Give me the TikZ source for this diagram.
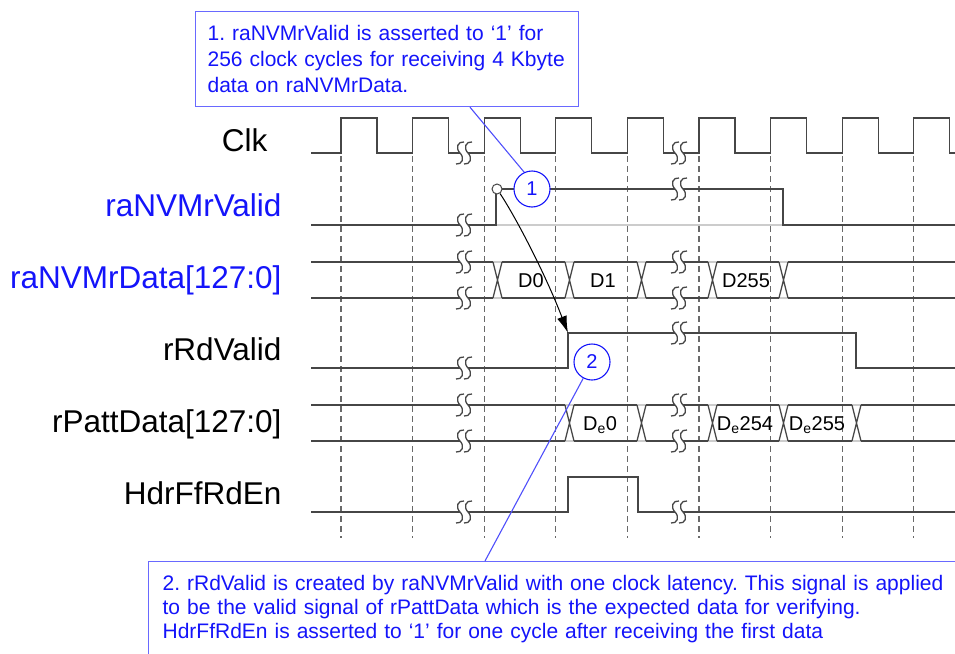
\documentclass[tikz,border=0pt]{standalone}
\usepackage{fontspec}
\setmainfont{Liberation Sans}
\usetikzlibrary{positioning}
\usetikzlibrary{calc}
\usetikzlibrary{arrows.meta}

\definecolor{noteblue}{RGB}{20,20,250}
\definecolor{frameblue}{RGB}{105,105,255}
\definecolor{wavegray}{RGB}{70,70,70}
\definecolor{dashgray}{RGB}{105,105,105}

% break mark (two S curves) on a signal line
\newcommand{\sbreak}[2]{%
  \fill[white] (#1-4,#2-3) rectangle (#1+4,#2+3);
  \foreach \s in {-4,4}
    \draw[wave] (#1+\s+4,#2-11) .. controls (#1+\s-2,#2-12) and (#1+\s-5,#2-5) .. (#1+\s,#2)
      .. controls (#1+\s+5,#2+5) and (#1+\s+2,#2+12) .. (#1+\s-4,#2+11);
}

\frenchspacing

\begin{document}
\begin{tikzpicture}[x=1pt, y=-1pt,
    wave/.style={draw=wavegray, line width=1.3pt},
    ghost/.style={draw=black!20, line width=1.3pt},
    edgeline/.style={draw=dashgray, line width=1.3pt, dash pattern=on 6pt off 4pt},
    signame/.style={anchor=base east, font=\fontsize{31.5}{36}\selectfont},
    datatext/.style={anchor=base, font=\fontsize{20}{24}\selectfont},
    notebox/.style={draw=frameblue, line width=1.2pt, fill=white, text=noteblue, align=left, anchor=north west},
    numcirc/.style={circle, draw=noteblue, line width=1.1pt, fill=white, minimum size=36pt, inner sep=0pt, text=noteblue, font=\fontsize{20}{24}\selectfont},
    noteline/.style={draw=noteblue!75, line width=1.1pt}]

    \useasboundingbox (0,0) rectangle (955,653);
    \clip (0,0) rectangle (955,653);

    % clock period
    \def\T{71.6}

    % dashed lines on the rising edges
    \foreach \k in {0,...,8}
      \draw[edgeline] ({341+\T*\k},156) -- ({341+\T*\k},538);

    % Clk
    \draw[wave] (311,153) \foreach \k in {0,...,8}
      { -- ({341+\T*\k},153) -- ({341+\T*\k},118) -- ({377+\T*\k},118) -- ({377+\T*\k},153) } -- (955,153);

    % raNVMrValid
    \draw[ghost] (496,225) -- (783,225);
    \draw[wave] (311,225) -- (496,225) -- (496,189) -- (783,189) -- (783,225) -- (955,225);

    % raNVMrData
    \draw[ghost] (311,262) -- (955,262) (311,298) -- (955,298);
    \foreach \a/\b in {311/493, 502/565, 574/637, 646/708, 717/779, 788/955}
      \draw[wave] (\a,262) -- (\b,262) (\a,298) -- (\b,298);
    \foreach \a in {493,565,637,708,779}
      \draw[wave] (\a,262) -- (\a+9,298) (\a,298) -- (\a+9,262);
    \node[datatext] (d0) at (531,287) {D0};
    \node[datatext] (d1) at (603,287) {D1};
    \node[datatext] (d255) at (746,287) {D255};

    % rRdValid
    \draw[wave] (311,368) -- (568,368) -- (568,333) -- (856,333) -- (856,368) -- (955,368);
    \coordinate (rdrise) at (568,333);

    % rPattData
    \draw[ghost] (311,405) -- (955,405) (311,441) -- (955,441);
    \foreach \a/\b in {311/565, 574/637, 646/708, 717/779, 788/852, 861/955}
      \draw[wave] (\a,405) -- (\b,405) (\a,441) -- (\b,441);
    \foreach \a in {565,637,708,779,852}
      \draw[wave] (\a,405) -- (\a+9,441) (\a,441) -- (\a+9,405);
    \node[datatext] (de0) at (600,430) {D\textsubscript{e}0};
    \node[datatext] (de254) at (745,430) {D\textsubscript{e}254};
    \node[datatext] (de255) at (817,430) {D\textsubscript{e}255};

    % HdrFfRdEn
    \draw[wave] (311,512) -- (568,512) -- (568,477) -- (638,477) -- (638,512) -- (955,512);

    % breaks
    \foreach \y in {153,225,262,298,368,405,441,512} {\sbreak{464}{\y}}
    \foreach \y in {153,189,262,298,333,405,441,512} {\sbreak{679}{\y}}

    % signal names
    \node[signame] (clk) at (271,151) {Clk};
    \node[signame, text=noteblue] (nvalid) at (285,216) {raNVMrValid};
    \node[signame, text=noteblue] (ndata) at (285,288) {raNVMrData[127:0]};
    \node[signame] (rdvalid) at (285,360) {rRdValid};
    \node[signame] (pattdata) at (285,432) {rPattData[127:0]};
    \node[signame] (hdren) at (285,504) {HdrFfRdEn};

    % latency arrow
    \node[circle, draw=wavegray, line width=1pt, fill=white, minimum size=10pt, inner sep=0pt] (src) at (497,189) {};
    \draw[black, line width=1pt, -{Latex[length=17pt,width=10pt]}] (src) .. controls (515,216) and (545,273) .. (rdrise);

    % numbered marks
    \node[numcirc] (c1) at (532,189) {1};
    \node[numcirc] (c2) at (592,362) {2};

    % notes
    \node[notebox, minimum width=383pt, minimum height=95pt, text width=359pt, inner xsep=12pt,
      font=\fontsize{21}{26}\selectfont] (note1) at (195,11)
      {1. raNVMrValid is asserted to ‘1’ for\\256 clock cycles for receiving 4 Kbyte\\data on raNVMrData.};
    \node[notebox, text width=800pt, inner xsep=14pt, inner ysep=14pt,
      font=\fontsize{21}{24}\selectfont] (note2) at (148,561)
      {2. rRdValid is created by raNVMrValid with one clock latency. This signal is applied\\to be the valid signal of rPattData which is the expected data for verifying.\\HdrFfRdEn is asserted to ‘1’ for one cycle after receiving the first data};

    \draw[noteline] ($(note1.south west)+(275,0)$) -- (c1.115);
    \draw[noteline] ($(note2.north west)+(337,0)$) -- (c2);
\end{tikzpicture}
\end{document}
